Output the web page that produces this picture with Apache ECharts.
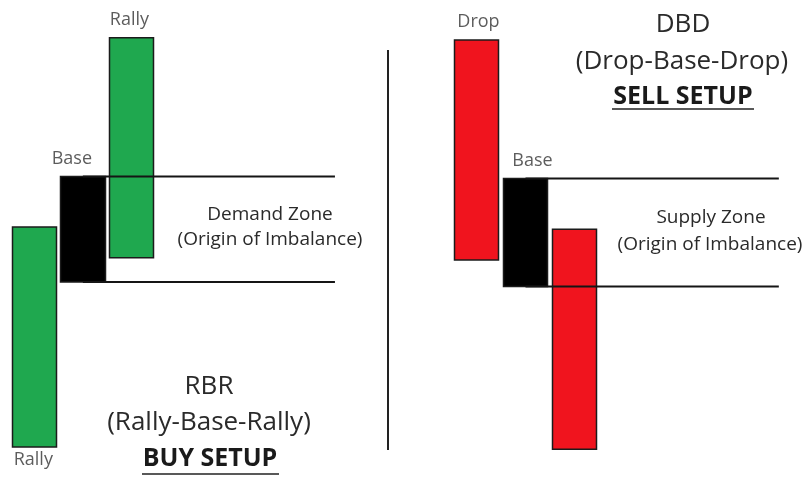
<!DOCTYPE html>
<html>
<head>
<meta charset="utf-8">
<script src="https://cdn.jsdelivr.net/npm/echarts@6/dist/echarts.min.js"></script>
<style>
  html, body { margin: 0; padding: 0; background: #fff; }
  #chart { width: 811px; height: 479px; }
</style>
</head>
<body>
<div id="chart"></div>
<script>
// left panel: Rally-Base-Rally (buy setup)
const rbrCategories = ['Rally', 'Base', 'Rally', '', '', '', '']
const rbrCandles = [
  [0, 100], // open, close
  [123, 75],
  [86, 186]
]
const rbrKinds = ['rally', 'base', 'rally']
const rbrLabelSide = ['bottom', 'top', 'top']

// right panel: Drop-Base-Drop (sell setup)
const dbdCategories = ['Drop', 'Base', 'Drop', '', '', '', '']
const dbdCandles = [
  [185, 85],
  [122, 73],
  [99, -1]
]
const dbdKinds = ['drop', 'base', 'drop']
const dbdLabelSide = ['top', 'top', 'bottom']

// zone lines run from the base candle out to this point (in category units)
const zoneEnds = [6.69, 6.67]

const kindColor = { rally: '#1fa84f', base: '#000000', drop: '#f0141e' }
const labelOffset = { 0: [[-1, 0], [-11, 0], [-2, 0]], 1: [[2, 0], [7, 0], [0, 0]] }

const chart = echarts.init(document.getElementById('chart'))

const candleData = (candles, kinds) =>
  candles.map((c, i) => {
    const col = kindColor[kinds[i]]
    return {
      value: [c[0], c[1], Math.min(c[0], c[1]), Math.max(c[0], c[1])],
      itemStyle: { color: col, color0: col, borderColor: '#1b1b1b', borderColor0: '#1b1b1b' }
    }
  })

const labelData = (candles, cats, sides, panel) =>
  candles.map((c, i) => ({
    name: cats[i],
    value: [i, sides[i] === 'top' ? Math.max(c[0], c[1]) : Math.min(c[0], c[1])],
    label: { position: sides[i], offset: labelOffset[panel][i], distance: sides[i] === 'top' ? 9 : 4 }
  }))

const zoneLines = (candles, end) => {
  const base = candles[1]
  const hi = Math.max(base[0], base[1])
  const lo = Math.min(base[0], base[1])
  return [[1.5, hi], [end, hi], [null, null], [1.5, lo], [end, lo]]
}

const panels = [
  { cats: rbrCategories, candles: rbrCandles, kinds: rbrKinds, sides: rbrLabelSide },
  { cats: dbdCategories, candles: dbdCandles, kinds: dbdKinds, sides: dbdLabelSide }
]

const series = []
panels.forEach((p, k) => {
  series.push({
    type: 'candlestick',
    xAxisIndex: k * 2,
    yAxisIndex: k,
    barWidth: 45,
    clip: false,
    silent: true,
    itemStyle: { borderWidth: 1.5 },
    data: candleData(p.candles, p.kinds)
  })
  series.push({
    type: 'line',
    xAxisIndex: k * 2 + 1,
    yAxisIndex: k,
    symbol: 'none',
    silent: true,
    connectNulls: false,
    lineStyle: { color: '#151515', width: 2 },
    data: zoneLines(p.candles, zoneEnds[k]),
    z: 3
  })
  series.push({
    type: 'scatter',
    xAxisIndex: k * 2,
    yAxisIndex: k,
    symbolSize: 0,
    silent: true,
    label: {
      show: true,
      formatter: '{b}',
      color: '#333',
      fontFamily: 'Open Sans',
      fontSize: 18
    },
    data: labelData(p.candles, p.cats, p.sides, k)
  })
})

const hiddenCat = (grid, cats) => ({ type: 'category', gridIndex: grid, data: cats, show: false, boundaryGap: true })
const hiddenVal = (grid) => ({ type: 'value', gridIndex: grid, min: 0, max: 7, show: false })
const priceAxis = (grid) => ({ type: 'value', gridIndex: grid, min: 0, max: 200, show: false })

const txt = (text, x, y, size, bold) => ({
  type: 'text',
  x: x,
  y: y,
  silent: true,
  style: {
    text: text,
    fill: bold ? '#1a1a1a' : '#2a2a2a',
    font: (bold ? 'bold ' : '') + size + 'px "Open Sans"',
    textAlign: 'center',
    textVerticalAlign: 'middle'
  }
})
const rule = (x1, y1, x2, y2, w) => ({
  type: 'line',
  silent: true,
  shape: { x1: x1, y1: y1, x2: x2, y2: y2 },
  style: { stroke: '#222', lineWidth: w }
})

const option = {
  animation: false,
  backgroundColor: '#fff',
  grid: [
    { left: 10, width: 340, top: 7, bottom: 32 },
    { left: 452, width: 343, top: 7, bottom: 32 }
  ],
  xAxis: [hiddenCat(0, rbrCategories), hiddenVal(0), hiddenCat(1, dbdCategories), hiddenVal(1)],
  yAxis: [priceAxis(0), priceAxis(1)],
  series: series,
  graphic: [
    rule(388, 50, 388, 450, 2),
    txt('Demand Zone', 270, 215, 19),
    txt('(Origin of Imbalance)', 270, 240, 19),
    txt('Supply Zone', 711, 218, 19),
    txt('(Origin of Imbalance)', 710, 245, 19),
    txt('RBR', 209, 387, 26),
    txt('(Rally-Base-Rally)', 209, 423, 26),
    txt('BUY SETUP', 210, 459, 25, true),
    rule(142, 474, 279, 474, 1.5),
    txt('DBD', 683, 25, 26),
    txt('(Drop-Base-Drop)', 682, 62, 26),
    txt('SELL SETUP', 683, 97, 25, true),
    rule(612, 109, 754, 109, 1.5)
  ]
}

chart.setOption(option)
</script>
</body>
</html>
